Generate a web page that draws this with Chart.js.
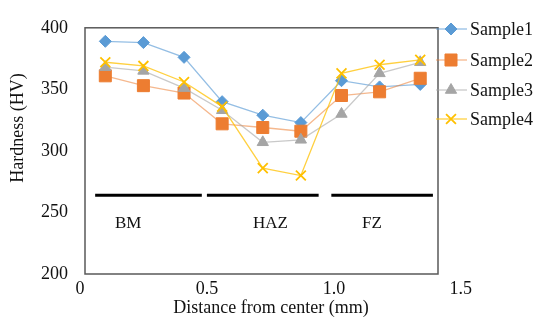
<!DOCTYPE html>
<html>
<head>
<meta charset="utf-8">
<script src="https://cdn.jsdelivr.net/npm/chart.js@4.4.1/dist/chart.umd.min.js"></script>
<style>
  html, body { margin: 0; padding: 0; background: #fff; }
  #wrap { width: 535px; height: 328px; position: relative; }
</style>
</head>
<body>
<div id="wrap"><canvas id="hvChart"></canvas></div>
<script>
// 測點位置 (mm) 與各樣品硬度
const distance = [0.10, 0.25, 0.41, 0.56, 0.72, 0.87, 1.03, 1.18, 1.34];
const sample1 = [389, 388, 376, 340, 329, 323, 357, 352, 354];
const sample2 = [361, 353, 347, 322, 319, 316, 345, 348, 359];
const sample3 = [368, 365, 351, 333, 307, 309, 330, 363, 372];
const sample4 = [372, 369, 356, 336, 286, 280, 363, 370, 374];
const sampleNames = ['Sample1', 'Sample2', 'Sample3', 'Sample4'];

// 區域分隔線與標籤
const zoneNames = ['BM', 'HAZ', 'FZ'];
const zoneStart = [0.06, 0.50, 0.99];
const zoneEnd = [0.48, 0.94, 1.39];
const zoneLineHV = 264;
const zoneLabelX = [0.19, 0.75, 1.15];
const zoneLabelHV = 241;

const xTicks = [0, 0.5, 1.0, 1.5];
const yTicks = [200, 250, 300, 350, 400];

const FONT = "'Liberation Serif', 'Times New Roman', serif";
const styles = [
  { marker: '#5B9BD5', line: 'rgba(91,155,213,0.65)', shape: 'rectRot', r: 6 },
  { marker: '#ED7D31', line: 'rgba(237,125,49,0.55)', shape: 'rect', r: 8.5 },
  { marker: '#A5A5A5', line: 'rgba(165,165,165,0.6)', shape: 'triangle', r: 6.5 },
  { marker: '#FFC000', line: 'rgba(255,192,0,0.75)', shape: 'crossRot', r: 7 }
];

const seriesData = [sample1, sample2, sample3, sample4];

const sampleSets = seriesData.map((vals, i) => ({
  label: sampleNames[i],
  data: vals.map((v, j) => ({ x: distance[j], y: v })),
  borderColor: styles[i].line,
  borderWidth: 1.3,
  pointStyle: styles[i].shape,
  pointRadius: styles[i].r,
  pointBackgroundColor: styles[i].marker,
  pointBorderColor: styles[i].marker,
  pointBorderWidth: styles[i].shape === 'crossRot' ? 1.8 : 1,
  tension: 0,
  order: 4 - i
}));

const zoneSets = zoneNames.map((name, i) => ({
  label: name,
  data: [{ x: zoneStart[i], y: zoneLineHV }, { x: zoneEnd[i], y: zoneLineHV }],
  borderColor: '#000',
  borderWidth: 3,
  pointRadius: 0,
  order: 10
}));

// 外框、軸標題、區域文字、圖例
const decor = {
  id: 'decor',
  afterDraw(chart) {
    const { ctx, chartArea: a, scales } = chart;
    ctx.save();
    ctx.strokeStyle = '#595959';
    ctx.lineWidth = 1.5;
    ctx.strokeRect(a.left, a.top, a.right - a.left, a.bottom - a.top);

    ctx.fillStyle = '#111';
    ctx.font = '17px ' + FONT;
    ctx.textAlign = 'center';
    ctx.textBaseline = 'middle';
    zoneNames.forEach((n, i) => {
      ctx.fillText(n, scales.x.getPixelForValue(zoneLabelX[i]), scales.y.getPixelForValue(zoneLabelHV));
    });

    ctx.font = '18px ' + FONT;
    ctx.fillText('Distance from center (mm)', 271, 308);
    ctx.save();
    ctx.translate(18, 128);
    ctx.rotate(-Math.PI / 2);
    ctx.fillText('Hardness (HV)', 0, 0);
    ctx.restore();

    const legendY = [29, 60, 90, 119];
    ctx.textAlign = 'left';
    sampleNames.forEach((n, i) => {
      const y = legendY[i];
      ctx.strokeStyle = styles[i].line;
      ctx.lineWidth = 1.3;
      ctx.beginPath();
      ctx.moveTo(436, y);
      ctx.lineTo(467, y);
      ctx.stroke();
      ctx.fillStyle = styles[i].marker;
      ctx.strokeStyle = styles[i].marker;
      ctx.lineWidth = styles[i].shape === 'crossRot' ? 1.8 : 1;
      Chart.helpers.drawPoint(ctx, { pointStyle: styles[i].shape, radius: styles[i].r, rotation: 0, borderWidth: ctx.lineWidth }, 451, y);
      ctx.fillStyle = '#111';
      ctx.fillText(n, 470, y + 1);
    });
    ctx.restore();
  }
};

new Chart(document.getElementById('hvChart'), {
  type: 'line',
  data: { datasets: [...sampleSets, ...zoneSets] },
  options: {
    responsive: true,
    maintainAspectRatio: false,
    animation: false,
    layout: { padding: { left: 0, top: 13, right: 97, bottom: 0 } },
    plugins: { legend: { display: false }, tooltip: { enabled: false } },
    scales: {
      x: {
        type: 'linear',
        min: 0.02,
        max: 1.41,
        bounds: 'data',
        grid: { display: false, drawTicks: false },
        border: { display: false },
        afterBuildTicks: s => { s.ticks = xTicks.map(v => ({ value: v })); },
        afterFit: s => { s.height = 54; },
        ticks: {
          autoSkip: false,
          maxRotation: 0,
          padding: 4,
          color: '#111',
          font: { family: FONT, size: 18 },
          callback: v => (v === 0 ? '0' : Number(v).toFixed(1))
        }
      },
      y: {
        min: 200,
        max: 400,
        grid: { display: false, drawTicks: false },
        border: { display: false },
        afterBuildTicks: s => { s.ticks = yTicks.map(v => ({ value: v })); },
        afterFit: s => { s.width = 85; },
        ticks: {
          padding: 17,
          color: '#111',
          font: { family: FONT, size: 18 }
        }
      }
    }
  },
  plugins: [decor]
});
</script>
</body>
</html>
